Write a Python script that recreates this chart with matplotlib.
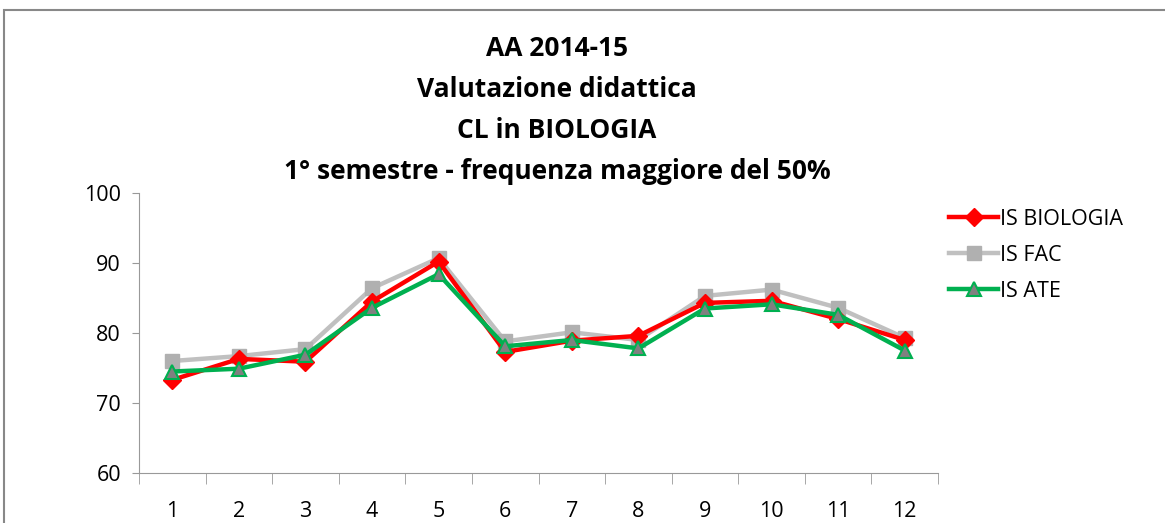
import matplotlib
matplotlib.use("Agg")
import matplotlib.pyplot as plt
import numpy as np
from matplotlib.patches import Rectangle

# dati
mesi = [1, 2, 3, 4, 5, 6, 7, 8, 9, 10, 11, 12]
is_biologia = [73.3, 76.3, 75.9, 84.5, 90.2, 77.3, 78.9, 79.6, 84.3, 84.6, 82.0, 79.0]
is_fac = [76.0, 76.7, 77.7, 86.4, 90.7, 78.8, 80.1, 79.0, 85.3, 86.2, 83.6, 79.3]
is_ate = [74.5, 74.9, 76.9, 83.6, 88.4, 78.1, 79.0, 77.8, 83.5, 84.1, 82.6, 77.5]
titolo = "AA 2014-15\nValutazione didattica\nCL in BIOLOGIA\n1° semestre - frequenza maggiore del 50%"

plt.rcParams['font.family'] = ['Open Sans', 'DejaVu Sans']

fig = plt.figure(figsize=(11.65, 5.23), dpi=100)
fig.patches.append(Rectangle((4 / 1165, -0.1), 1.2, 1.1 - 10 / 523, transform=fig.transFigure,
                             fill=False, edgecolor='#888888', linewidth=1.5))

ax = fig.add_axes([139 / 1165, 1 - 473 / 523, (938 - 139) / 1165, (473 - 193) / 523])

ax.plot(mesi, is_biologia, color='#ff0000', lw=3.2, marker='D', ms=9,
        mfc='#ff0000', mec='#ff0000', label='IS BIOLOGIA', zorder=3)
ax.plot(mesi, is_fac, color='#c0c0c0', lw=3.2, marker='s', ms=10,
        mfc='#b0b0b0', mec='#b0b0b0', label='IS FAC', zorder=2)
ax.plot(mesi, is_ate, color='#00b050', lw=3.2, marker='^', ms=10,
        mfc='#808080', mec='#00b050', mew=1.5, label='IS ATE', zorder=4)

ax.set_xlim(0.5, 12.5)
ax.set_ylim(60, 100)
ax.set_yticks([60, 70, 80, 90, 100])
ax.set_xticks(mesi)
ax.set_xticks(np.arange(0.5, 13, 1), minor=True)
ax.tick_params(axis='x', which='major', length=0, pad=20, labelsize=15.5)
ax.tick_params(axis='x', which='minor', length=8, color='#999999')
ax.tick_params(axis='y', length=5, color='#999999', labelsize=15.5, pad=8)

for s in ['top', 'right']:
    ax.spines[s].set_visible(False)
for s in ['left', 'bottom']:
    ax.spines[s].set_color('#999999')

fig.text(557 / 1165, 1 - 110 / 523, titolo, ha='center', va='center',
         fontsize=19, fontweight='bold', linespacing=1.68)

ax.legend(loc='upper left', bbox_to_anchor=(938 / 1165, 1 - 198 / 523),
          bbox_transform=fig.transFigure, frameon=False, fontsize=15.5,
          handlelength=2.3, handletextpad=0.1, labelspacing=0.7, borderpad=0)

fig.savefig("out.png", dpi=100)
